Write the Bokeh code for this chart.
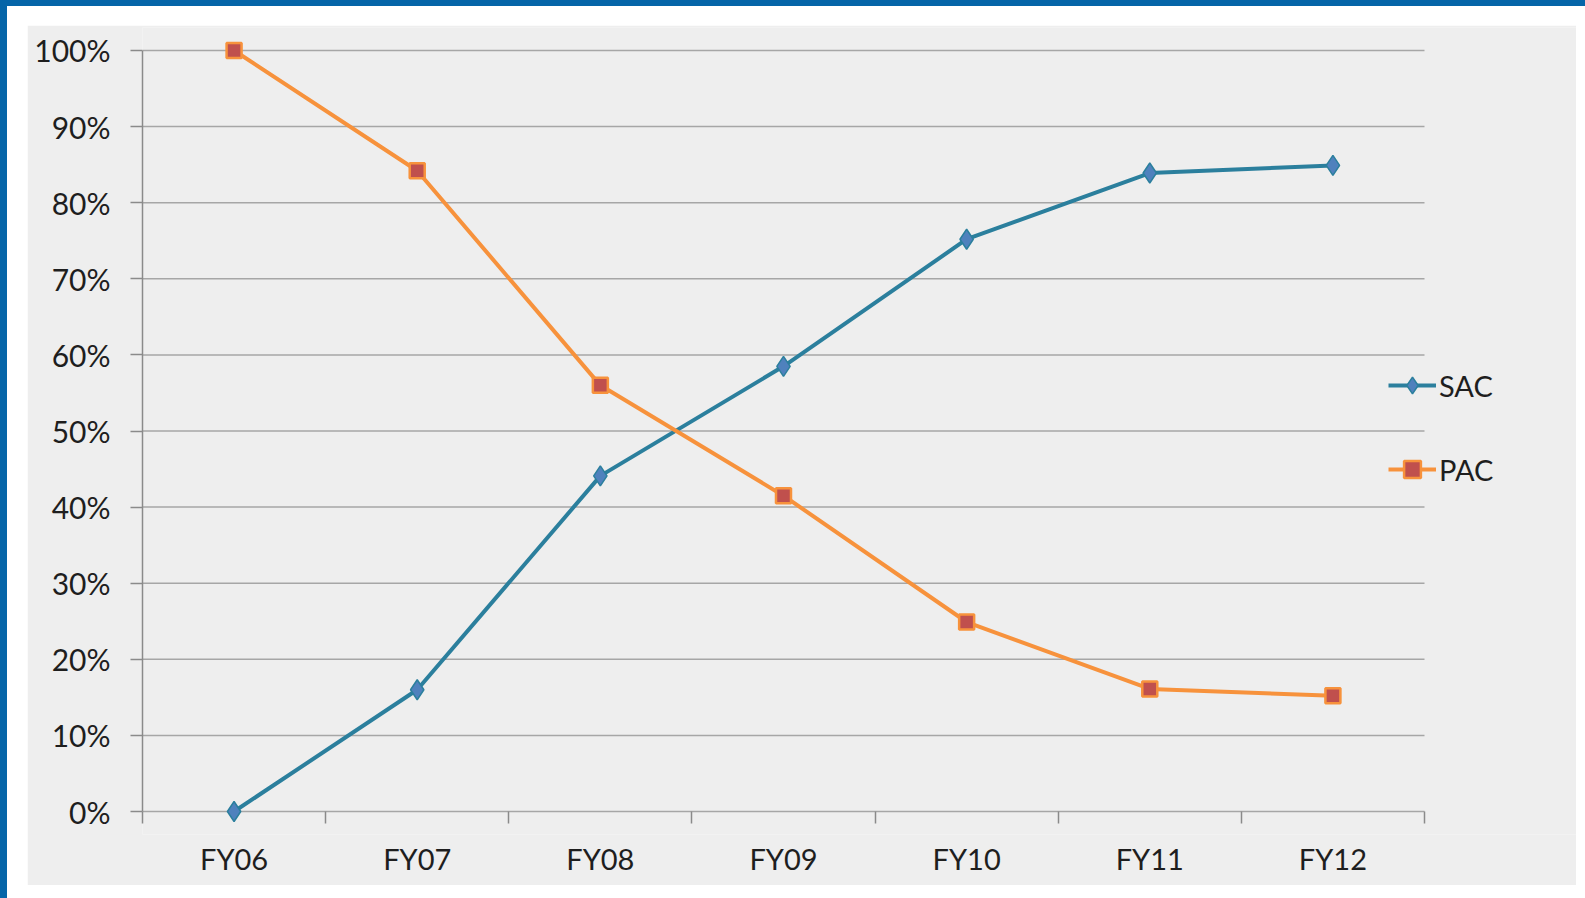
import numpy as np
from bokeh.plotting import figure
from bokeh.models import Range1d, FixedTicker, NumeralTickFormatter, Legend, LegendItem
from bokeh.embed import file_html
from bokeh.resources import INLINE

# ---- data -------------------------------------------------------------
categories = ["FY06", "FY07", "FY08", "FY09", "FY10", "FY11", "FY12"]
sac = [0.0, 0.16, 0.441, 0.585, 0.752, 0.839, 0.849]
pac = [1.0, 0.842, 0.56, 0.415, 0.249, 0.161, 0.152]
y_ticks = [0.0, 0.1, 0.2, 0.3, 0.4, 0.5, 0.6, 0.7, 0.8, 0.9, 1.0]
series_names = ["SAC", "PAC"]

# ---- styling ----------------------------------------------------------
FONT = "Lato"
TXT = "#1e1e1e"
GRID = "#a6a6a6"
AXIS = "#8a8a8a"
BG = "#eeeeee"
SAC_LINE = "#2b7f9d"
SAC_FILL = "#4f81bd"
PAC_LINE = "#f7923c"
PAC_FILL = "#c0504d"

PAD = 0.0302          # vertical room so end markers are not clipped
RIGHT_GAP = 0.83      # empty space (in category widths) right of the plot area, holds the legend
n = len(categories)
xs = list(range(n))
x_lo, x_hi = -0.5, n - 0.5

p = figure(
    width=1549, height=860,
    output_backend="svg", toolbar_location=None,
    x_range=Range1d(x_lo, x_hi + RIGHT_GAP),
    y_range=Range1d(-PAD, 1 + PAD),
    min_border_left=115, min_border_right=0,
    min_border_top=2, min_border_bottom=51,
)
p.background_fill_color = BG
p.border_fill_color = BG
p.outline_line_color = None

# x axis: boundary ticks hang down from the 0% line
xa = p.xaxis[0]
xa.ticker = FixedTicker(ticks=xs, minor_ticks=[i - 0.5 for i in range(n + 1)])
xa.major_label_overrides = {i: c for i, c in enumerate(categories)}
xa.axis_line_color = None
xa.major_tick_out = 0
xa.major_tick_in = 0
xa.major_tick_line_color = None
xa.minor_tick_in = 23
xa.minor_tick_out = -11
xa.minor_tick_line_color = AXIS
xa.minor_tick_line_width = 1.5
xa.major_label_standoff = 6
xa.major_label_text_font = FONT
xa.major_label_text_font_size = "29px"
xa.major_label_text_color = TXT

# y axis
ya = p.yaxis[0]
ya.ticker = FixedTicker(ticks=y_ticks)
ya.formatter = NumeralTickFormatter(format="0%")
ya.bounds = (0, 1)
ya.major_tick_out = 12
ya.major_tick_in = 0
ya.minor_tick_line_color = None
ya.major_tick_line_color = AXIS
ya.major_tick_line_width = 1.5
ya.axis_line_color = AXIS
ya.axis_line_width = 1.5
ya.major_label_standoff = 20
ya.major_label_text_font = FONT
ya.major_label_text_font_size = "30px"
ya.major_label_text_color = TXT

# horizontal grid lines, limited to the category span
p.xgrid.visible = False
p.ygrid.visible = False
p.segment(x0=x_lo, x1=x_hi, y0=y_ticks, y1=y_ticks, line_color=GRID, line_width=1.5)

# series
l1 = p.line(xs, sac, line_color=SAC_LINE, line_width=4)
m1 = p.scatter(xs, sac, marker="diamond", size=20,
               fill_color=SAC_FILL, line_color=SAC_LINE, line_width=1.5)
l2 = p.line(xs, pac, line_color=PAC_LINE, line_width=4)
m2 = p.scatter(xs, pac, marker="square", size=15,
               fill_color=PAC_FILL, line_color=PAC_LINE, line_width=2.5)

lg = Legend(
    items=[LegendItem(label=series_names[0], renderers=[l1, m1]),
           LegendItem(label=series_names[1], renderers=[l2, m2])],
    location=(1246, 344),
    background_fill_alpha=0, border_line_color=None,
    padding=0, margin=0, spacing=42,
    glyph_width=48, glyph_height=42, label_height=42, label_standoff=3,
    label_text_font=FONT, label_text_font_size="29px", label_text_color=TXT,
)
p.add_layout(lg, "center")

html = file_html(p, INLINE, title="SAC vs PAC")
style = (
    "<style>html{background:"
    "linear-gradient(#0565a8,#0565a8) 0 0/100% 6px no-repeat,"
    "linear-gradient(#0565a8,#0565a8) 0 0/7px 100% no-repeat,#ffffff;"
    "min-height:100%;}"
    "body{margin:25px 0 0 27px;background:transparent;}</style>"
)
html = html.replace("</head>", style + "</head>", 1)
open("out.html", "w").write(html)
